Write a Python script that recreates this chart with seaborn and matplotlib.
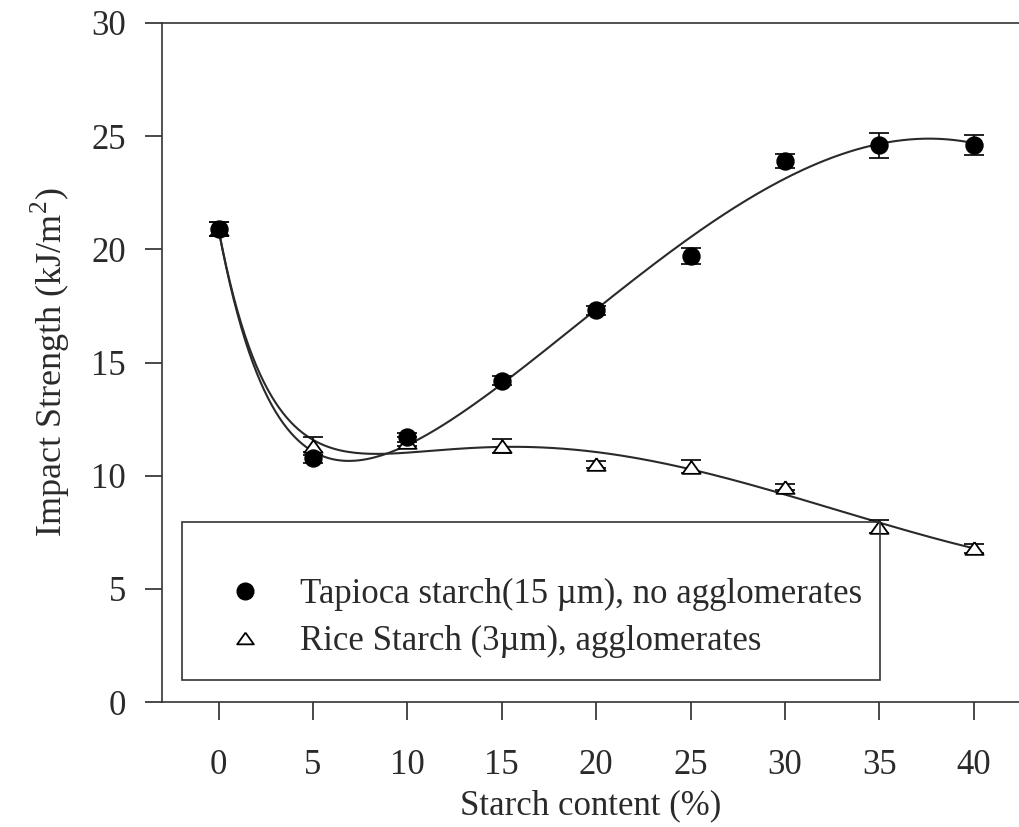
import numpy as np
import pandas as pd
import matplotlib
matplotlib.use("Agg")
import matplotlib.pyplot as plt
import seaborn as sns
from matplotlib.lines import Line2D
from matplotlib.patches import Rectangle

# Starch content (%)
starch_content = [0, 5, 10, 15, 20, 25, 30, 35, 40]

# Tapioca starch (15 um), no agglomerates
tapioca_mean = [20.9, 10.8, 11.7, 14.2, 17.3, 19.7, 23.9, 24.6, 24.6]
tapioca_err = [0.3, 0.25, 0.2, 0.2, 0.2, 0.35, 0.3, 0.55, 0.45]

# Rice starch (3 um), agglomerates
rice_mean = [20.9, 11.3, 11.5, 11.3, 10.5, 10.4, 9.5, 7.75, 6.8]
rice_err = [0.3, 0.4, 0.2, 0.3, 0.15, 0.3, 0.15, 0.3, 0.2]

series_labels = [
    "Tapioca starch(15 \u00b5m), no agglomerates",
    "Rice Starch (3\u00b5m), agglomerates",
]
y_ticks = [0, 5, 10, 15, 20, 25, 30]
x_ticks = [0, 5, 10, 15, 20, 25, 30, 35, 40]

FONT = 25
INK = "#2a2a2a"
# flattened open triangle, as in the original figure
TRIANGLE = [(0, 0.7), (-1, -0.7), (1, -0.7), (0, 0.7)]


def build_frame() -> pd.DataFrame:
    """Long-form table of both series."""
    tap = pd.DataFrame({"content": starch_content, "strength": tapioca_mean,
                        "err": tapioca_err, "starch": series_labels[0]})
    rice = pd.DataFrame({"content": starch_content, "strength": rice_mean,
                         "err": rice_err, "starch": series_labels[1]})
    return pd.concat([tap, rice], ignore_index=True)


def smooth_fit(x, y, n=200, tau=3.0) -> pd.DataFrame:
    """Least-squares fit: cubic trend plus an initial exponential drop."""
    x = np.asarray(x, float)
    y = np.asarray(y, float)

    def basis(v):
        return np.column_stack([np.ones_like(v), v, v ** 2, v ** 3, np.exp(-v / tau)])

    coef, *_ = np.linalg.lstsq(basis(x), y, rcond=None)
    grid = np.linspace(x.min(), x.max(), n)
    return pd.DataFrame({"content": grid, "strength": basis(grid) @ coef})


def main() -> None:
    sns.set_style("ticks")
    plt.rcParams["font.family"] = ["Liberation Serif", "DejaVu Serif"]
    plt.rcParams["mathtext.fontset"] = "custom"
    plt.rcParams["mathtext.rm"] = "Liberation Serif"

    df = build_frame()

    fig = plt.figure(figsize=(10.2, 8.27), dpi=100)
    ax = fig.add_axes([0.1588, 0.1511, 0.8412, 0.8211])

    # fitted curves
    for label in series_labels:
        sub = df[df["starch"] == label]
        fit = smooth_fit(sub["content"], sub["strength"])
        sns.lineplot(data=fit, x="content", y="strength", color=INK, lw=1.5,
                     ax=ax, sort=False)

    # error bars
    for label in series_labels:
        sub = df[df["starch"] == label]
        ax.errorbar(sub["content"], sub["strength"], yerr=sub["err"], fmt="none",
                    ecolor="#111111", elinewidth=1.3, capsize=7, capthick=1.3, zorder=3)

    rice = df[df["starch"] == series_labels[1]]
    tap = df[df["starch"] == series_labels[0]]
    sns.scatterplot(data=rice, x="content", y="strength", marker=TRIANGLE, s=170,
                    facecolor="white", edgecolor="black", linewidth=1.3, ax=ax, zorder=4)
    sns.scatterplot(data=tap, x="content", y="strength", marker="o", s=150,
                    color="black", edgecolor="black", ax=ax, zorder=5)

    ax.set_xlim(-3, 42.45)
    ax.set_ylim(0, 30)
    ax.set_xticks(x_ticks)
    ax.set_yticks(y_ticks)
    ax.tick_params(axis="y", direction="out", length=12, width=1.2, pad=14,
                   labelsize=FONT, colors=INK)
    ax.tick_params(axis="x", direction="out", length=13, width=1.2, pad=21,
                   labelsize=FONT, colors=INK)
    for side in ["left", "top", "bottom"]:
        ax.spines[side].set_visible(True)
        ax.spines[side].set_linewidth(1.2)
        ax.spines[side].set_color("#333333")
    ax.spines["right"].set_visible(False)

    ax.set_xlabel("Starch content (%)", fontsize=FONT, labelpad=5, color=INK)
    ax.set_ylabel("Impact Strength (kJ/m$^2$)", fontsize=26, labelpad=14, color=INK)

    # legend box drawn separately so the entries sit low in it, like the original
    ax.add_patch(Rectangle((0.0233, 0.0324), 0.8135, 0.2327, transform=ax.transAxes,
                           fill=False, edgecolor="#333333", lw=1.2, zorder=6))
    handles = [
        Line2D([], [], marker="o", ls="none", color="black", markersize=12),
        Line2D([], [], marker=TRIANGLE, ls="none", markerfacecolor="white",
               markeredgecolor="black", markersize=12, markeredgewidth=1.3),
    ]
    leg = ax.legend(handles, series_labels, loc="center left",
                    bbox_to_anchor=(0.0769, 0.1237), fontsize=FONT, frameon=False,
                    borderpad=0, borderaxespad=0, handlelength=1.0,
                    handletextpad=1.07, labelspacing=0.38)
    for t in leg.get_texts():
        t.set_color(INK)

    fig.savefig("out.png", dpi=100)
    plt.close(fig)


if __name__ == "__main__":
    main()
